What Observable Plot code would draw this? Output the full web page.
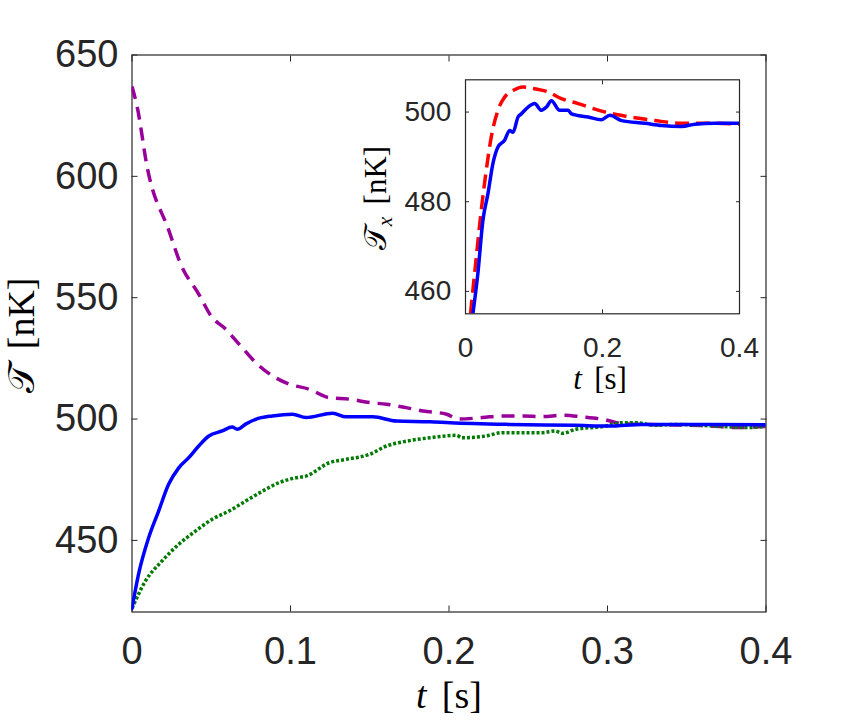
<!DOCTYPE html>
<html><head><meta charset="utf-8">
<script src="https://cdn.jsdelivr.net/npm/d3@7"></script>
<script src="https://cdn.jsdelivr.net/npm/@observablehq/plot@0.6"></script>
<style>
body{margin:0;background:#fff;}
#wrap{position:relative;width:845px;height:723px;background:#fff;}
#wrap svg{position:absolute;left:0;top:0;}
</style></head><body><div id="wrap"></div>
<script>
// ---- main panel data ----
const purpleT = [0, 0.0033, 0.0096, 0.0233, 0.0307, 0.0421, 0.0506, 0.058, 0.0675, 0.078, 0.0886, 0.0992, 0.1118, 0.1245, 0.137, 0.15, 0.1605, 0.173, 0.1837, 0.1985, 0.206, 0.221, 0.2335, 0.246, 0.259, 0.2715, 0.284, 0.297, 0.3096, 0.322, 0.343, 0.3645, 0.381, 0.4];
const purpleV = [637, 628.5, 603.7, 577.6, 563.9, 551.5, 541.8, 537.7, 530.9, 523.3, 517.8, 514.4, 512.3, 508.8, 508.2, 506.8, 506.1, 504.7, 503.3, 502.0, 500.0, 500.6, 501.3, 501.3, 501.0, 501.6, 500.9, 499.9, 498.1, 497.8, 497.6, 497.2, 496.5, 497.0];

const blueT = [0, 0.0041, 0.0105, 0.0168, 0.0231, 0.0295, 0.0358, 0.0421, 0.0485, 0.0569, 0.0632, 0.0664, 0.0717, 0.078, 0.0886, 0.1013, 0.1097, 0.1266, 0.1351, 0.152, 0.1668, 0.1879, 0.2006, 0.2378, 0.28, 0.301, 0.322, 0.3645, 0.4];
const blueV = [422, 436, 451.1, 462.1, 473.1, 479.9, 484.1, 488.9, 493.0, 495.1, 496.7, 495.8, 497.9, 499.9, 501.3, 502.0, 500.6, 502.4, 500.9, 500.9, 499.2, 498.9, 498.5, 497.8, 497.4, 497.1, 497.8, 497.8, 497.6];

const greenT = [0, 0.0084, 0.0189, 0.0295, 0.04, 0.0506, 0.0612, 0.0717, 0.0823, 0.0928, 0.1034, 0.1098, 0.1245, 0.1351, 0.15, 0.1605, 0.171, 0.1879, 0.2048, 0.208, 0.223, 0.2335, 0.259, 0.267, 0.2715, 0.28, 0.297, 0.3096, 0.318, 0.3305, 0.343, 0.3645, 0.39, 0.4];
const greenV = [422, 433.2, 441.5, 448.4, 453.8, 458.7, 462.1, 466.2, 470.3, 473.8, 475.8, 476.5, 482.0, 483.4, 485.5, 488.9, 490.6, 492.3, 493.3, 492.3, 493.0, 494.4, 494.4, 495.1, 494.1, 495.8, 496.9, 498.5, 498.5, 497.4, 497.8, 497.2, 496.5, 497.2];

// ---- inset data ----
const insetBlueT = [0.0108, 0.018, 0.0254, 0.0328, 0.04, 0.0474, 0.057, 0.0644, 0.0693, 0.0767, 0.0815, 0.0913, 0.101, 0.1108, 0.118, 0.1254, 0.1375, 0.1498, 0.1547, 0.179, 0.1985, 0.2107, 0.2278, 0.262, 0.2863, 0.3156, 0.335, 0.3643, 0.4];
const insetBlueV = [455, 463.9, 475.8, 481.8, 488.5, 492.2, 493.7, 495.9, 495.5, 498.9, 499.6, 501.1, 501.9, 500.4, 501.1, 502.5, 500.4, 500.4, 499.6, 498.9, 498.3, 499.3, 498.1, 497.5, 497.0, 496.8, 497.3, 497.5, 497.5];

const insetRedT = [0.0073, 0.0157, 0.023, 0.0303, 0.0376, 0.0474, 0.057, 0.0693, 0.084, 0.101, 0.1206, 0.14, 0.1645, 0.1985, 0.2376, 0.2765, 0.3156, 0.359, 0.4];
const insetRedV = [455, 467.6, 478.1, 487.0, 494.4, 500.4, 503.3, 504.8, 505.6, 505.2, 504.5, 503.0, 501.9, 500.2, 499.0, 498.1, 497.5, 497.5, 497.3];

// ---- ticks ----
const mainXTicks = [0, 0.1, 0.2, 0.3, 0.4];
const mainYTicks = [450, 500, 550, 600, 650];
const insetXTicks = [0, 0.2, 0.4];
const insetYTicks = [460, 480, 500];

const rows = (ts, vs) => ts.map((t, i) => ({t, v: vs[i]}));
const ink = "#262626";
const W = 845, H = 723;
const sans = "'Liberation Sans', Arial, Helvetica, sans-serif";
const serif = "'Liberation Serif', 'Times New Roman', serif";

const main = Plot.plot({
  width: W, height: H,
  marginLeft: 131.5, marginRight: 79.5, marginTop: 54.5, marginBottom: 111.5,
  style: {fontFamily: sans, fontSize: "38px", color: ink, background: "transparent", overflow: "visible"},
  x: {domain: [0, 0.4]},
  y: {domain: [420.5, 650]},
  marks: [
    Plot.frame({stroke: ink, strokeWidth: 1.2}),
    Plot.axisX({anchor: "bottom", ticks: mainXTicks, tickSize: -6, tickPadding: 31, tickFormat: d => String(d), label: null, fontSize: 38, stroke: ink, fill: ink}),
    Plot.axisX({anchor: "top", ticks: mainXTicks, tickSize: -6, tickFormat: () => "", label: null, stroke: ink}),
    Plot.axisY({anchor: "left", ticks: mainYTicks, tickSize: -6, tickPadding: 19.5, tickFormat: d => String(d), label: null, fontSize: 38, stroke: ink, fill: ink}),
    Plot.axisY({anchor: "right", ticks: mainYTicks, tickSize: -6, tickFormat: () => "", label: null, stroke: ink}),
    Plot.line(rows(purpleT, purpleV), {x: "t", y: "v", curve: "monotone-x", stroke: "#990099", strokeWidth: 3.5, strokeDasharray: "13,8", strokeLinecap: "butt", clip: true}),
    Plot.line(rows(greenT, greenV), {x: "t", y: "v", curve: "monotone-x", stroke: "#007a00", strokeWidth: 3.5, strokeDasharray: "3,2", strokeLinecap: "butt", clip: true}),
    Plot.line(rows(blueT, blueV), {x: "t", y: "v", curve: "monotone-x", stroke: "#0000ff", strokeWidth: 3.5, clip: true})
  ]
});

const inset = Plot.plot({
  width: W, height: H,
  marginLeft: 465, marginRight: 106, marginTop: 79.3, marginBottom: 409.7,
  style: {fontFamily: sans, fontSize: "28px", color: ink, background: "transparent", overflow: "visible"},
  x: {domain: [0, 0.4]},
  y: {domain: [455, 507.2]},
  marks: [
    Plot.frame({fill: "white"}),
    Plot.line(rows(insetRedT, insetRedV), {x: "t", y: "v", curve: "monotone-x", stroke: "#ff0000", strokeWidth: 3.5, strokeDasharray: "14,7", strokeLinecap: "butt", clip: true}),
    Plot.line(rows(insetBlueT, insetBlueV), {x: "t", y: "v", curve: "monotone-x", stroke: "#0000ff", strokeWidth: 3.5, clip: true}),
    Plot.frame({stroke: ink, strokeWidth: 1.2}),
    Plot.axisX({anchor: "bottom", ticks: insetXTicks, tickSize: -4, tickPadding: 27.4, tickFormat: d => String(d), label: null, fontSize: 28, stroke: ink, fill: ink}),
    Plot.axisX({anchor: "top", ticks: insetXTicks, tickSize: -4, tickFormat: () => "", label: null, stroke: ink}),
    Plot.axisY({anchor: "left", ticks: insetYTicks, tickSize: -4, tickPadding: 18.3, tickFormat: d => String(d), label: null, fontSize: 28, stroke: ink, fill: ink}),
    Plot.axisY({anchor: "right", ticks: insetYTicks, tickSize: -4, tickFormat: () => "", label: null, stroke: ink})
  ]
});

const wrap = document.getElementById("wrap");
wrap.appendChild(main);
wrap.appendChild(inset);

// axis titles (mixed italic / upright, as in the LaTeX labels)
function addLabel(svg, {x, y, rotate = 0, size, parts}) {
  const t = d3.select(svg).append("text")
    .attr("transform", `translate(${x},${y}) rotate(${rotate})`)
    .attr("text-anchor", "middle")
    .attr("font-family", serif)
    .attr("font-size", size)
    .attr("fill", "#000");
  for (const p of parts) {
    const s = t.append("tspan").text(p.text);
    if (p.italic) s.attr("font-style", "italic");
    if (p.size) s.attr("font-size", p.size);
    if (p.dy) s.attr("dy", p.dy);
  }
}
addLabel(main, {x: 449, y: 708, size: 38, parts: [{text: "t", italic: true}, {text: "\u2009\u2009[s]"}]});
addLabel(main, {x: 34, y: 335.5, rotate: -90, size: 38, parts: [{text: "𝒯"}, {text: "\u2009\u2009[nK]"}]});
addLabel(inset, {x: 600, y: 389, size: 31, parts: [{text: "t", italic: true}, {text: "\u2009\u2009[s]"}]});
addLabel(inset, {x: 386, y: 198, rotate: -90, size: 31, parts: [{text: "𝒯"}, {text: "x", italic: true, size: 21, dy: 6}, {text: "\u2009\u2009[nK]", dy: -6}]});
</script></body></html>
